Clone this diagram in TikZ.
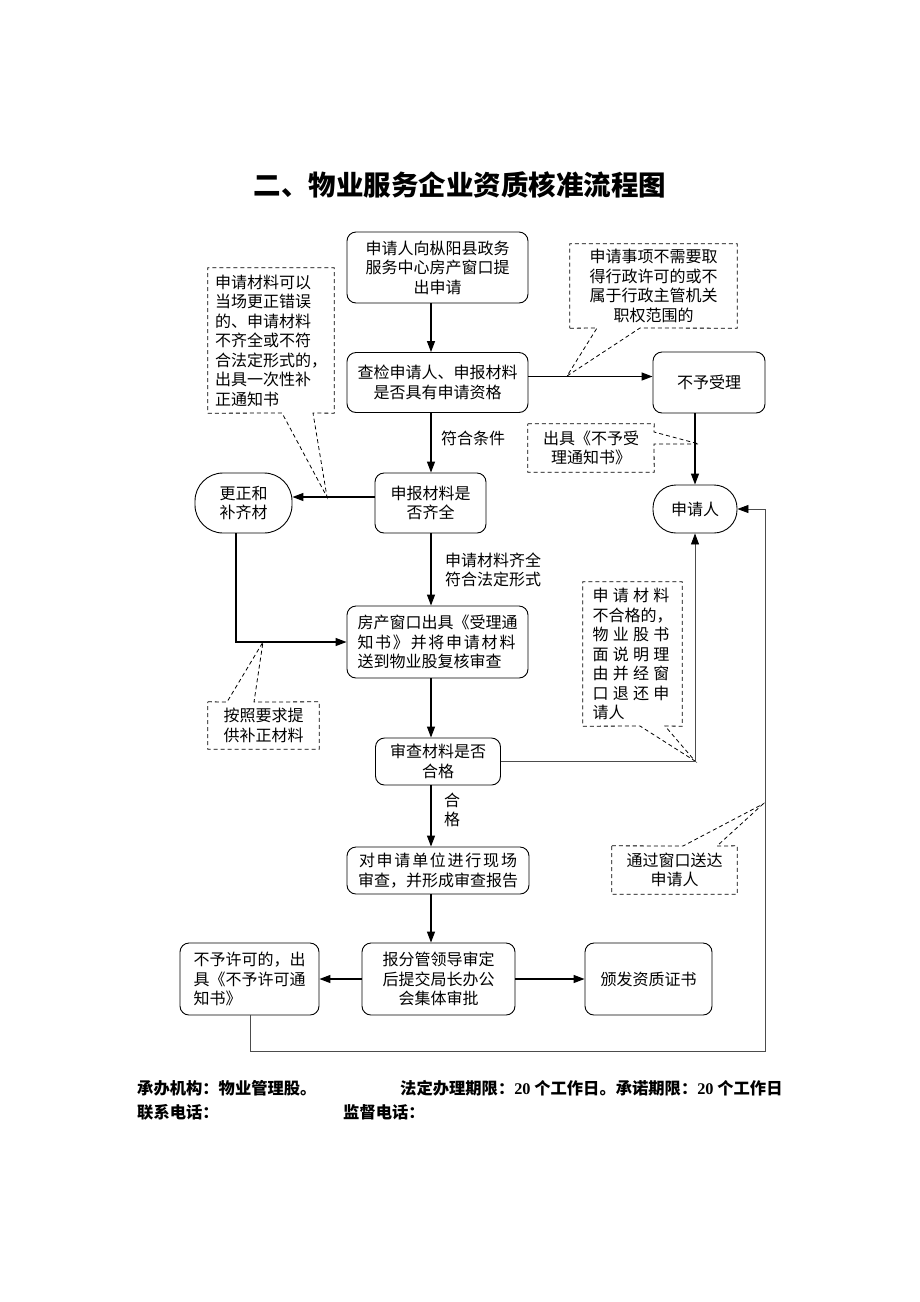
\documentclass[tikz,border=0pt]{standalone}
\usepackage{fontspec}
\setmainfont{Liberation Serif}
\newfontfamily\cjk{Noto Sans CJK SC}
\usetikzlibrary{arrows.meta}
\begin{document}
\begin{tikzpicture}[x=1pt,y=-1pt,
  txt/.style={font=\cjk\fontsize{16}{19.5}\selectfont},
  box/.style={txt, draw, line width=0.9pt, rounded corners=9pt, inner sep=0pt, align=center},
  note/.style={txt, inner sep=0pt, align=center},
  notebd/.style={draw, line width=0.8pt, dash pattern=on 4pt off 3pt},
  arr/.style={line width=1.3pt, -{Triangle[length=11pt,width=8pt]}},
  thinarr/.style={line width=0.8pt, draw=black!70, -{Triangle[length=11pt,width=8pt,fill=black,color=black]}},
  lbl/.style={txt, inner sep=0pt, align=left},
  foot/.style={font=\cjk\bfseries\fontsize{16.3}{19}\selectfont, inner sep=0pt}
]
\useasboundingbox[fill=white] (0,0) rectangle (920,1302);

% title
\node[font=\cjk\bfseries\fontsize{27.5}{30}\selectfont, inner sep=0pt] (title) at (460,185) {二、物业服务企业资质核准流程图};

% main boxes
\node[box, minimum width=181pt, minimum height=71pt] (A) at (437.5,267.5) {申请人向枞阳县政务\\服务中心房产窗口提\\出申请};
\node[box, minimum width=181pt, minimum height=60pt] (B) at (437.5,382.5) {查检申请人、申报材料\\是否具有申请资格};
\node[box, minimum width=112pt, minimum height=61pt] (C) at (709,382.5) {不予受理};
\node[box, minimum width=111pt, minimum height=60pt] (F) at (430.5,503) {申报材料是\\否齐全};
\node[box, rounded corners=28pt, minimum width=97pt, minimum height=60pt] (G) at (243.5,503) {更正和\\补齐材};
\node[box, rounded corners=23pt, minimum width=84pt, minimum height=48pt] (H) at (695,509) {申请人};
\node[box, minimum width=181pt, minimum height=72pt, align=left] (I) at (437.5,642) {房产窗口出具《受理通\\\makebox[158pt][s]{知\hfill 书\hfill 》\hfill 并\hfill 将\hfill 申\hfill 请\hfill 材\hfill 料}\\送到物业股复核审查};
\node[box, minimum width=125pt, minimum height=47pt] (J) at (438,761.5) {审查材料是否\\合格};
\node[box, minimum width=182pt, minimum height=47pt] (K) at (438,870.5) {\makebox[158pt][s]{对\hfill 申\hfill 请\hfill 单\hfill 位\hfill 进\hfill 行\hfill 现\hfill 场}\\审查，并形成审查报告};
\node[box, minimum width=153pt, minimum height=72pt] (L) at (438.5,979) {报分管领导审定\\后提交局长办公\\会集体审批};
\node[box, minimum width=139pt, minimum height=72pt, align=left] (M) at (249.5,979) {不予许可的，出\\具《不予许可通\\知书》};
\node[box, minimum width=127pt, minimum height=72pt] (N) at (648.5,979) {颁发资质证书};

% notes
\node[note, minimum width=167pt, minimum height=84pt] (D) at (653.5,286) {申请事项不需要取\\得行政许可的或不\\属于行政主管机关\\职权范围的};
\node[note, minimum width=126pt, minimum height=145pt, align=left] (E) at (271,340.5) {申请材料可以\\当场更正错误\\的、申请材料\\不齐全或不符\\合法定形式的，\\出具一次性补\\正通知书};
\node[note, minimum width=126pt, minimum height=48pt] (Q) at (591,448) {出具《不予受\\理通知书》};
\node[note, minimum width=111pt, minimum height=47pt] (R) at (263.5,725.5) {按照要求提\\供补正材料};
\node[note, minimum width=99pt, minimum height=144pt, align=left] (S) at (632.5,654) {\makebox[77pt][s]{申\hfill 请\hfill 材\hfill 料}\\不合格的，\\\makebox[77pt][s]{物\hfill 业\hfill 股\hfill 书}\\\makebox[77pt][s]{面\hfill 说\hfill 明\hfill 理}\\\makebox[77pt][s]{由\hfill 并\hfill 经\hfill 窗}\\\makebox[77pt][s]{口\hfill 退\hfill 还\hfill 申}\\请人};
\node[note, minimum width=125pt, minimum height=48pt] (T) at (674.5,870) {通过窗口送达\\申请人};

% pointer targets
\coordinate (dT) at (567,376);
\coordinate (eT) at (327,497);
\coordinate (qT) at (699,444);
\coordinate (rT) at (263,642);
\coordinate (sT) at (695,761);
\coordinate (tT) at (763,804);

% note borders with pointers
\draw[notebd] (D.south west) -- (597,328) -- (dT) -- (640,328) -- (D.south east) -- (D.north east) -- (D.north west) -- cycle;
\draw[notebd] (E.south west) -- (282,413) -- (eT) -- (313,413) -- (E.south east) -- (E.north east) -- (E.north west) -- cycle;
\draw[notebd] (Q.north west) -- (Q.north east) -- (654,432) -- (qT) -- (654,444) -- (Q.south east) -- (Q.south west) -- cycle;
\draw[notebd] (R.north west) -- (227,702) -- (rT) -- (254,702) -- (R.north east) -- (R.south east) -- (R.south west) -- cycle;
\draw[notebd] (S.south west) -- (640,726) -- (sT) -- (665,726) -- (S.south east) -- (S.north east) -- (S.north west) -- cycle;
\draw[notebd] (T.north west) -- (683,846) -- (tT) -- (717,846) -- (T.north east) -- (T.south east) -- (T.south west) -- cycle;

% labels
\node[lbl, anchor=west] (l1) at (441,438) {符合条件};
\node[lbl, anchor=west] (l2) at (445,570) {申请材料齐全\\符合法定形式};
\node[lbl, align=center] (l3) at (452,810) {合\\格};

% connectors
\coordinate (sp) at (431,0);
\coordinate (rb) at (765,1051);
\draw[arr] (A.south -| sp) -- (B.north -| sp);
\draw[arr] (B.south -| sp) -- (F.north -| sp);
\draw[arr] (F.south -| sp) -- (I.north -| sp);
\draw[arr] (I.south -| sp) -- (J.north -| sp);
\draw[arr] (J.south -| sp) -- (K.north -| sp);
\draw[arr] (K.south -| sp) -- (L.north -| sp);
\draw[arr] ([yshift=6pt]B.east) -- ([yshift=6pt]C.west);
\draw[arr] ([yshift=6pt]F.west) -- ([yshift=6pt]G.east);
\draw[arr] ([xshift=-14pt]C.south) -- (H.north);
\draw[arr] ([xshift=-7.5pt]G.south) |- (I.west);
\draw[thinarr] (J.east) -| (H.south);
\draw[thinarr] ([xshift=0.5pt]M.south) |- (rb) |- (H.east);
\draw[arr] (L.west) -- (M.east);
\draw[arr] (L.east) -- (N.west);

% footer
\node[foot, anchor=west] (f1) at (137,1088) {承办机构：物业管理股。};
\node[foot, anchor=west] (f2) at (400,1088) {法定办理期限：{\rmfamily\bfseries 20} 个工作日。承诺期限：{\rmfamily\bfseries 20} 个工作日};
\node[foot, anchor=west] (f3) at (137,1112) {联系电话：};
\node[foot, anchor=west] (f4) at (343,1112) {监督电话：};
\end{tikzpicture}
\end{document}
